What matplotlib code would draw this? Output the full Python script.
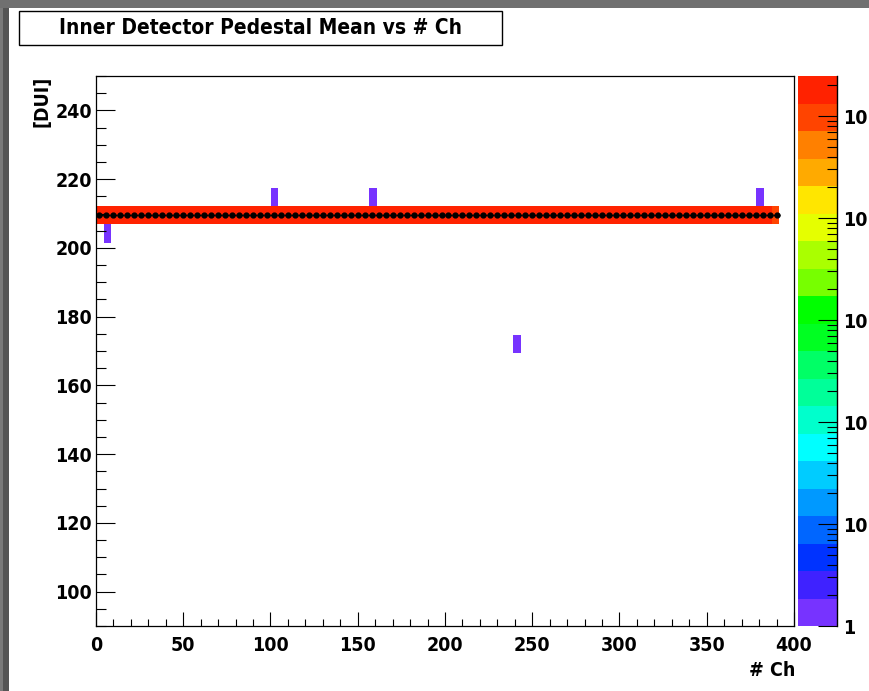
import matplotlib
matplotlib.use('Agg')
import matplotlib.pyplot as plt
import numpy as np
from matplotlib.colors import ListedColormap, LogNorm
from matplotlib import font_manager
from matplotlib.patches import Rectangle
from matplotlib.lines import Line2D
from matplotlib.ticker import LogLocator, FuncFormatter, MultipleLocator, NullFormatter

names = {f.name for f in font_manager.fontManager.ttflist}
if 'Liberation Sans Narrow' in names:
    FONT = ['Liberation Sans Narrow', 'DejaVu Sans']
    STRETCH = 'normal'
else:
    FONT = ['DejaVu Sans']
    STRETCH = 'condensed'
plt.rcParams['font.family'] = FONT
plt.rcParams['font.weight'] = 'bold'
plt.rcParams['font.stretch'] = STRETCH

# ---------------- data ----------------
title = "Inner Detector Pedestal Mean vs # Ch"
x_label = "# Ch"
y_label = "[DUI]"

x_bin_width = 4.35          # 2D histogram channel binning
n_x_bins = 90
y_bin_low = 169.3           # 2D histogram pedestal binning
y_bin_width = 5.36
n_y_bins = 9

band_y_bin = 7              # pedestal bin holding nearly all entries
band_counts = [2.0e5] * 89 + [1.0e5]

outlier_x_bins = [1, 23, 36, 55, 87]
outlier_y_bins = [6, 8, 8, 0, 8]
outlier_counts = [1, 1, 1, 1, 1]

profile_bin_width = 4.0     # profile (mean per channel group)
profile_means = [209.5] * 98

z_min, z_max = 1.0, 2.47e5
z_tick_labels = {0: '1', 1: '10', 2: '10', 3: '10', 4: '10', 5: '10'}

palette = ['#7733ff', '#3f22ff', '#0033ff', '#0066ff', '#0099ff',
           '#00ccff', '#00ffff', '#00ffcc', '#00ff99', '#00ff66',
           '#00ff22', '#00ff00', '#77ff00', '#aaff00', '#e5ff00',
           '#ffe600', '#ffaa00', '#ff8000', '#ff4400', '#ff2200']

# ---------------- figure ----------------
W, H = 870, 691
fig = plt.figure(figsize=(W / 100, H / 100), dpi=100)
fig.patch.set_facecolor('white')

def fx(px):
    return px / W

def fy(py):
    return 1 - py / H

# canvas bevel border (left and top)
fig.patches.append(Rectangle((0, 0), fx(9), 1, transform=fig.transFigure,
                             facecolor='#555555', edgecolor='none', zorder=0))
fig.patches.append(Rectangle((0, 0), fx(3), 1, transform=fig.transFigure,
                             facecolor='#7a7a7a', edgecolor='none', zorder=0))
fig.patches.append(Rectangle((0, fy(8)), 1, 8 / H, transform=fig.transFigure,
                             facecolor='#707070', edgecolor='none', zorder=0))

ax_l, ax_r, ax_t, ax_b = 96, 794, 76, 626
ax = fig.add_axes([fx(ax_l), fy(ax_b), fx(ax_r - ax_l), (ax_b - ax_t) / H])

x_edges = np.arange(n_x_bins + 1) * x_bin_width
y_edges = y_bin_low + np.arange(n_y_bins + 1) * y_bin_width
counts = np.full((n_y_bins, n_x_bins), np.nan)
counts[band_y_bin, :] = band_counts
for xb, yb, c in zip(outlier_x_bins, outlier_y_bins, outlier_counts):
    counts[yb, xb] = c

cmap = ListedColormap(palette)
norm = LogNorm(vmin=z_min, vmax=z_max)
mesh = ax.pcolormesh(x_edges, y_edges, np.ma.masked_invalid(counts),
                     cmap=cmap, norm=norm, shading='flat', zorder=1)

prof_x = profile_bin_width / 2 + np.arange(len(profile_means)) * profile_bin_width
ax.errorbar(prof_x, profile_means, xerr=profile_bin_width / 2, fmt='o',
            color='black', markersize=3.5, elinewidth=1.0, capsize=0, zorder=3)

ax.set_xlim(0, 400)
ax.set_ylim(90, 250)
ax.xaxis.set_major_locator(MultipleLocator(50))
ax.xaxis.set_minor_locator(MultipleLocator(10))
ax.yaxis.set_major_locator(MultipleLocator(20))
ax.yaxis.set_minor_locator(MultipleLocator(5))
ax.tick_params(axis='x', which='major', direction='in', length=10, width=0.8,
               labelsize=14, pad=7, top=False)
ax.tick_params(axis='x', which='minor', direction='in', length=5, width=0.8, top=False)
ax.tick_params(axis='y', which='major', direction='in', length=14, width=0.8,
               labelsize=14, pad=3, right=False)
ax.tick_params(axis='y', which='minor', direction='in', length=7, width=0.8, right=False)
for lab in ax.get_xticklabels() + ax.get_yticklabels():
    lab.set_fontweight('bold')
yt = ax.get_yticks()
ax.set_yticks([t for t in yt if 90 < t < 250])
for s in ax.spines.values():
    s.set_linewidth(0.9)

fig.text(fx(795), fy(671), x_label, ha='right', va='center', fontsize=14,
         fontweight='bold')
fig.text(fx(42), fy(76), y_label, ha='center', va='top', rotation=90,
         fontsize=14, fontweight='bold')

# colour palette axis
cax = fig.add_axes([fx(798), fy(ax_b), fx(39), (ax_b - ax_t) / H])
cb = fig.colorbar(mesh, cax=cax)
cb.outline.set_visible(False)
cax.add_line(Line2D([1, 1], [0, 1], transform=cax.transAxes, color='black',
                    lw=1.0, clip_on=False))

def cfmt(v, pos):
    k = int(round(np.log10(v)))
    return z_tick_labels.get(k, '')

cax.yaxis.set_major_locator(LogLocator(base=10))
cax.yaxis.set_major_formatter(FuncFormatter(cfmt))
cax.yaxis.set_minor_locator(LogLocator(base=10, subs=np.arange(2, 10)))
cax.yaxis.set_minor_formatter(NullFormatter())
cax.tick_params(axis='y', which='major', direction='in', length=14, width=0.8,
                labelsize=14, pad=4.5, right=True, left=False)
cax.tick_params(axis='y', which='minor', direction='in', length=7.5, width=0.8,
                right=True, left=False)
for lab in cax.get_yticklabels():
    lab.set_fontweight('bold')

# title box
fig.patches.append(Rectangle((fx(19), fy(45)), fx(483), 34 / H,
                             transform=fig.transFigure, facecolor='white',
                             edgecolor='black', lw=1.0, zorder=2))
fig.text(fx(261), fy(28), title, ha='center', va='center', fontsize=15,
         fontweight='bold', zorder=3)

fig.savefig('out.png', dpi=100)
